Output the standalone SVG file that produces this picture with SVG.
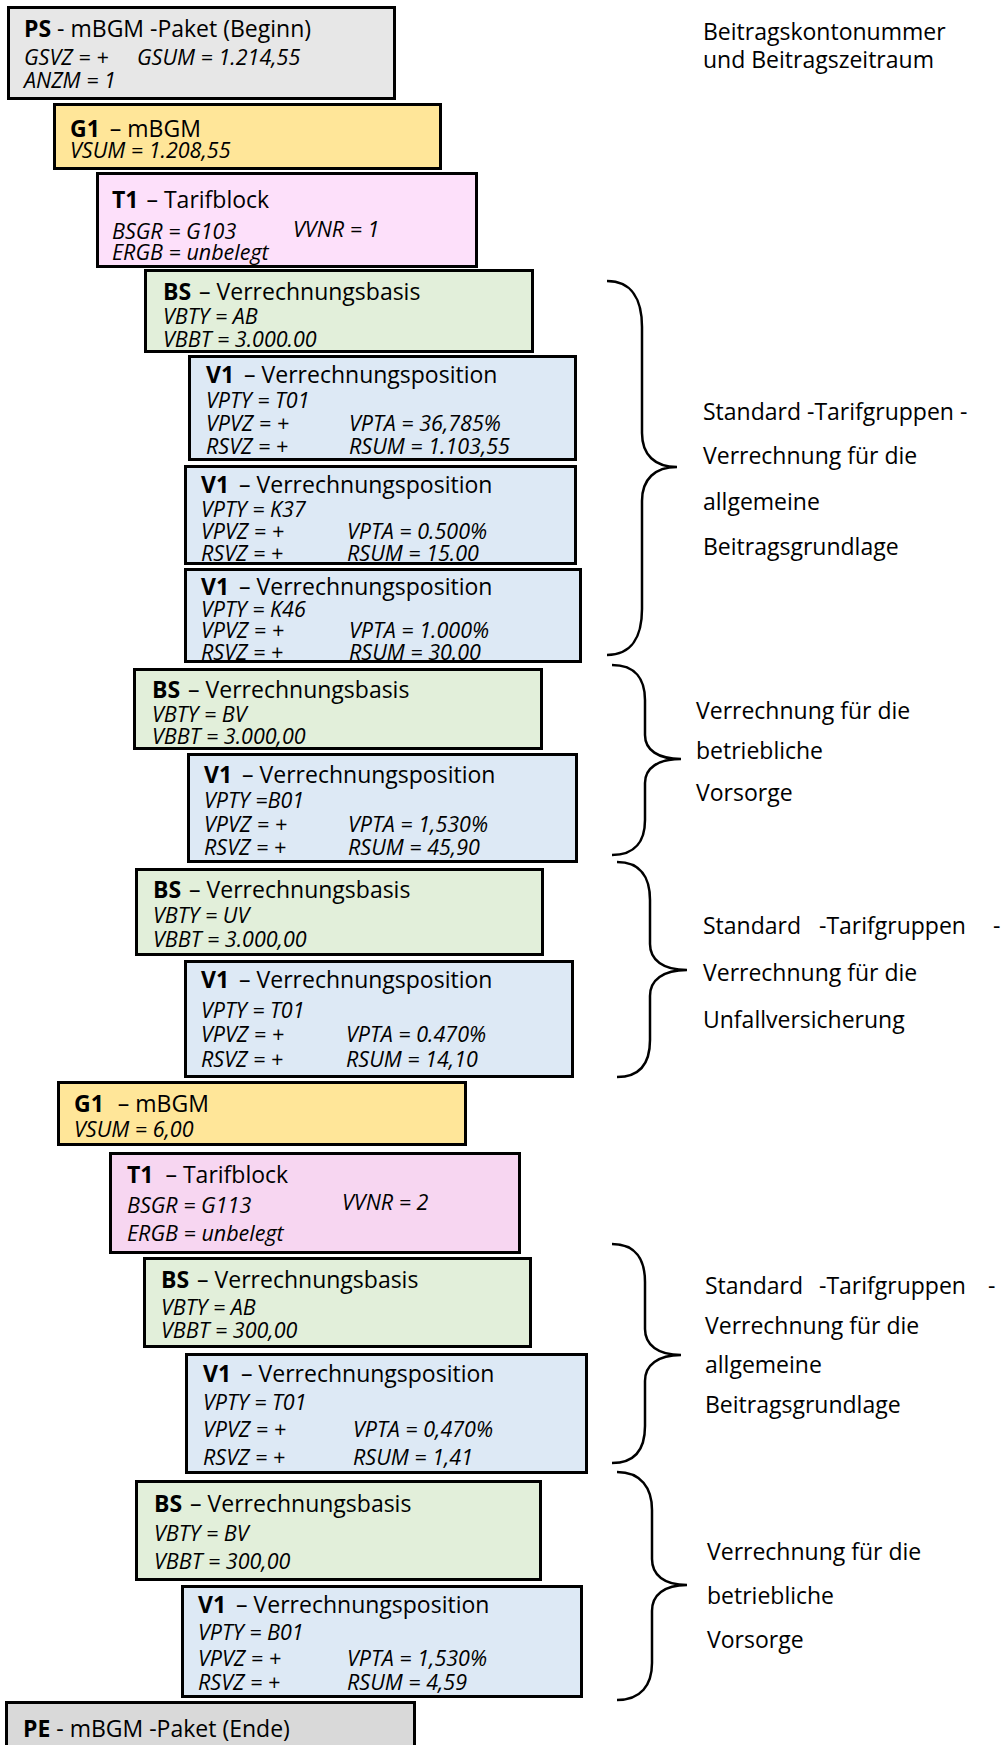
<svg xmlns="http://www.w3.org/2000/svg" width="1007" height="1745" viewBox="0 0 1007 1745">
<style>
.box{stroke:#000;stroke-width:3}
.ps{fill:#e7e7e7}.pe{fill:#d9d9d9}.g{fill:#ffe699}.t{fill:#fde0fa}.t2{fill:#f7d6f1}.b{fill:#e2efda}.v{fill:#dde9f5}
.h{font-family:"Open Sans","Liberation Sans",sans-serif;font-size:23px;fill:#000}
.h tspan.k{font-weight:bold}
.i{font-family:"Open Sans","Liberation Sans",sans-serif;font-size:21.5px;font-style:italic;fill:#000}
.lbl{font-family:"Open Sans","Liberation Sans",sans-serif;font-size:23px;fill:#000}
.br{fill:none;stroke:#000;stroke-width:2.5}
</style>
<rect width="1007" height="1745" fill="#fff"/>
<defs>
<clipPath id="c1"><rect x="9" y="8" width="385" height="90"/></clipPath>
<clipPath id="c2"><rect x="55" y="105" width="385" height="63"/></clipPath>
<clipPath id="c3"><rect x="98" y="174" width="378" height="92"/></clipPath>
<clipPath id="c4"><rect x="146" y="271" width="386" height="80"/></clipPath>
<clipPath id="c5"><rect x="190" y="357" width="385" height="102"/></clipPath>
<clipPath id="c6"><rect x="186" y="467" width="389" height="96"/></clipPath>
<clipPath id="c7"><rect x="186" y="570" width="394" height="91"/></clipPath>
<clipPath id="c8"><rect x="135" y="670" width="406" height="78"/></clipPath>
<clipPath id="c9"><rect x="189" y="755" width="387" height="106"/></clipPath>
<clipPath id="c10"><rect x="137" y="870" width="405" height="84"/></clipPath>
<clipPath id="c11"><rect x="186" y="962" width="386" height="114"/></clipPath>
<clipPath id="c12"><rect x="59" y="1083" width="406" height="61"/></clipPath>
<clipPath id="c13"><rect x="111" y="1154" width="408" height="98"/></clipPath>
<clipPath id="c14"><rect x="145" y="1259" width="385" height="87"/></clipPath>
<clipPath id="c15"><rect x="187" y="1355" width="399" height="117"/></clipPath>
<clipPath id="c16"><rect x="137" y="1482" width="403" height="97"/></clipPath>
<clipPath id="c17"><rect x="183" y="1587" width="398" height="109"/></clipPath>
<clipPath id="c18"><rect x="7" y="1703" width="407" height="60"/></clipPath>
</defs>

<g id="connectors">
<path class="br" d="M607,281 C632,281 642,300 642,327 L642,433 C642,455 655,467 677,467 C655,467 642,479 642,501 L642,609 C642,636 632,655 607,655"/>
<path class="br" d="M612,665 C636,665 645,680 645,700 L645,735 C645,750 658,759 681,759 C658,759 645,768 645,783 L645,820 C645,840 636,855 612,855"/>
<path class="br" d="M617,862 C641,862 650,878 650,900 L650,944 C650,960 663,970 687,970 C663,970 650,980 650,996 L650,1040 C650,1062 641,1077 617,1077"/>
<path class="br" d="M612,1244 C636,1244 645,1260 645,1282 L645,1329 C645,1345 658,1355 681,1355 C658,1355 645,1365 645,1381 L645,1426 C645,1448 636,1463 612,1463"/>
<path class="br" d="M617,1472 C641,1472 652,1488 652,1510 L652,1559 C652,1575 664,1585 687,1585 C664,1585 652,1595 652,1611 L652,1663 C652,1685 641,1700 617,1700"/>
</g>

<g id="labels">
<text class="lbl" x="703" y="40">Beitragskontonummer</text>
<text class="lbl" x="703" y="68">und Beitragszeitraum</text>
<text class="lbl" x="703" y="420">Standard -Tarifgruppen -</text>
<text class="lbl" x="703" y="464">Verrechnung für die</text>
<text class="lbl" x="703" y="510">allgemeine</text>
<text class="lbl" x="703" y="555">Beitragsgrundlage</text>
<text class="lbl" x="696" y="719">Verrechnung für die</text>
<text class="lbl" x="696" y="759">betriebliche</text>
<text class="lbl" x="696" y="801">Vorsorge</text>
<text class="lbl" x="703" y="934">Standard</text>
<text class="lbl" x="819" y="934">-Tarifgruppen</text>
<text class="lbl" x="993" y="934">-</text>
<text class="lbl" x="703" y="981">Verrechnung für die</text>
<text class="lbl" x="703" y="1028">Unfallversicherung</text>
<text class="lbl" x="705" y="1294">Standard</text>
<text class="lbl" x="819" y="1294">-Tarifgruppen</text>
<text class="lbl" x="988" y="1294">-</text>
<text class="lbl" x="705" y="1334">Verrechnung für die</text>
<text class="lbl" x="705" y="1373">allgemeine</text>
<text class="lbl" x="705" y="1413">Beitragsgrundlage</text>
<text class="lbl" x="707" y="1560">Verrechnung für die</text>
<text class="lbl" x="707" y="1604">betriebliche</text>
<text class="lbl" x="707" y="1648">Vorsorge</text>
</g>

<g id="n1"><rect class="box ps" x="8.5" y="7.5" width="386" height="91"/>
<g clip-path="url(#c1)"><text class="h" x="24" y="37"><tspan class="k">PS</tspan> - mBGM -Paket (Beginn)</text>
<text class="i" x="24" y="65">GSVZ = +</text><text class="i" x="137" y="65">GSUM = 1.214,55</text>
<text class="i" x="24" y="88">ANZM = 1</text></g></g>

<g id="n2"><rect class="box g" x="54.5" y="104.5" width="386" height="64"/>
<g clip-path="url(#c2)"><text class="h" x="70" y="137"><tspan class="k">G1</tspan><tspan dx="4"> – mBGM</tspan></text>
<text class="i" x="70" y="158">VSUM = 1.208,55</text></g></g>

<g id="n3"><rect class="box t" x="97.5" y="173.5" width="379" height="93"/>
<g clip-path="url(#c3)"><text class="h" x="112" y="208"><tspan class="k">T1</tspan><tspan dx="2"> – Tarifblock</tspan></text>
<text class="i" x="112" y="239">BSGR = G103</text><text class="i" x="293" y="237">VVNR = 1</text>
<text class="i" x="112" y="260">ERGB = unbelegt</text></g></g>

<g id="n4"><rect class="box b" x="145.5" y="270.5" width="387" height="81"/>
<g clip-path="url(#c4)"><text class="h" x="163" y="300"><tspan class="k">BS</tspan><tspan dx="2"> – Verrechnungsbasis</tspan></text>
<text class="i" x="163" y="324">VBTY = AB</text>
<text class="i" x="163" y="347">VBBT = 3.000.00</text></g></g>

<g id="n5"><rect class="box v" x="189.5" y="356.5" width="386" height="103"/>
<g clip-path="url(#c5)"><text class="h" x="206" y="383"><tspan class="k">V1</tspan><tspan dx="4"> – Verrechnungsposition</tspan></text>
<text class="i" x="206" y="408">VPTY = T01</text>
<text class="i" x="206" y="431">VPVZ = +</text><text class="i" x="349" y="431">VPTA = 36,785%</text>
<text class="i" x="206" y="454">RSVZ = +</text><text class="i" x="349" y="454">RSUM = 1.103,55</text></g></g>

<g id="n6"><rect class="box v" x="185.5" y="466.5" width="390" height="97"/>
<g clip-path="url(#c6)"><text class="h" x="201" y="493"><tspan class="k">V1</tspan><tspan dx="4"> – Verrechnungsposition</tspan></text>
<text class="i" x="201" y="517">VPTY = K37</text>
<text class="i" x="201" y="539">VPVZ = +</text><text class="i" x="347" y="539">VPTA = 0.500%</text>
<text class="i" x="201" y="561">RSVZ = +</text><text class="i" x="347" y="561">RSUM = 15.00</text></g></g>

<g id="n7"><rect class="box v" x="185.5" y="569.5" width="395" height="92"/>
<g clip-path="url(#c7)"><text class="h" x="201" y="595"><tspan class="k">V1</tspan><tspan dx="4"> – Verrechnungsposition</tspan></text>
<text class="i" x="201" y="617">VPTY = K46</text>
<text class="i" x="201" y="638">VPVZ = +</text><text class="i" x="349" y="638">VPTA = 1.000%</text>
<text class="i" x="201" y="660">RSVZ = +</text><text class="i" x="349" y="660">RSUM = 30.00</text></g></g>

<g id="n8"><rect class="box b" x="134.5" y="669.5" width="407" height="79"/>
<g clip-path="url(#c8)"><text class="h" x="152" y="698"><tspan class="k">BS</tspan><tspan dx="2"> – Verrechnungsbasis</tspan></text>
<text class="i" x="152" y="722">VBTY = BV</text>
<text class="i" x="152" y="744">VBBT = 3.000,00</text></g></g>

<g id="n9"><rect class="box v" x="188.5" y="754.5" width="388" height="107"/>
<g clip-path="url(#c9)"><text class="h" x="204" y="783"><tspan class="k">V1</tspan><tspan dx="4"> – Verrechnungsposition</tspan></text>
<text class="i" x="204" y="808">VPTY =B01</text>
<text class="i" x="204" y="832">VPVZ = +</text><text class="i" x="348" y="832">VPTA = 1,530%</text>
<text class="i" x="204" y="855">RSVZ = +</text><text class="i" x="348" y="855">RSUM = 45,90</text></g></g>

<g id="n10"><rect class="box b" x="136.5" y="869.5" width="406" height="85"/>
<g clip-path="url(#c10)"><text class="h" x="153" y="898"><tspan class="k">BS</tspan><tspan dx="2"> – Verrechnungsbasis</tspan></text>
<text class="i" x="153" y="923">VBTY = UV</text>
<text class="i" x="153" y="947">VBBT = 3.000,00</text></g></g>

<g id="n11"><rect class="box v" x="185.5" y="961.5" width="387" height="115"/>
<g clip-path="url(#c11)"><text class="h" x="201" y="988"><tspan class="k">V1</tspan><tspan dx="4"> – Verrechnungsposition</tspan></text>
<text class="i" x="201" y="1018">VPTY = T01</text>
<text class="i" x="201" y="1042">VPVZ = +</text><text class="i" x="346" y="1042">VPTA = 0.470%</text>
<text class="i" x="201" y="1067">RSVZ = +</text><text class="i" x="346" y="1067">RSUM = 14,10</text></g></g>

<g id="n12"><rect class="box g" x="58.5" y="1082.5" width="407" height="62"/>
<g clip-path="url(#c12)"><text class="h" x="74" y="1112"><tspan class="k">G1</tspan><tspan dx="8"> – mBGM</tspan></text>
<text class="i" x="74" y="1137">VSUM = 6,00</text></g></g>

<g id="n13"><rect class="box t2" x="110.5" y="1153.5" width="409" height="99"/>
<g clip-path="url(#c13)"><text class="h" x="127" y="1183"><tspan class="k">T1</tspan><tspan dx="6"> – Tarifblock</tspan></text>
<text class="i" x="127" y="1213">BSGR = G113</text><text class="i" x="342" y="1210">VVNR = 2</text>
<text class="i" x="127" y="1241">ERGB = unbelegt</text></g></g>

<g id="n14"><rect class="box b" x="144.5" y="1258.5" width="386" height="88"/>
<g clip-path="url(#c14)"><text class="h" x="161" y="1288"><tspan class="k">BS</tspan><tspan dx="2"> – Verrechnungsbasis</tspan></text>
<text class="i" x="161" y="1315">VBTY = AB</text>
<text class="i" x="161" y="1338">VBBT = 300,00</text></g></g>

<g id="n15"><rect class="box v" x="186.5" y="1354.5" width="400" height="118"/>
<g clip-path="url(#c15)"><text class="h" x="203" y="1382"><tspan class="k">V1</tspan><tspan dx="4"> – Verrechnungsposition</tspan></text>
<text class="i" x="203" y="1410">VPTY = T01</text>
<text class="i" x="203" y="1437">VPVZ = +</text><text class="i" x="353" y="1437">VPTA = 0,470%</text>
<text class="i" x="203" y="1465">RSVZ = +</text><text class="i" x="353" y="1465">RSUM = 1,41</text></g></g>

<g id="n16"><rect class="box b" x="136.5" y="1481.5" width="404" height="98"/>
<g clip-path="url(#c16)"><text class="h" x="154" y="1512"><tspan class="k">BS</tspan><tspan dx="2"> – Verrechnungsbasis</tspan></text>
<text class="i" x="154" y="1541">VBTY = BV</text>
<text class="i" x="154" y="1569">VBBT = 300,00</text></g></g>

<g id="n17"><rect class="box v" x="182.5" y="1586.5" width="399" height="110"/>
<g clip-path="url(#c17)"><text class="h" x="198" y="1613"><tspan class="k">V1</tspan><tspan dx="4"> – Verrechnungsposition</tspan></text>
<text class="i" x="198" y="1640">VPTY = B01</text>
<text class="i" x="198" y="1666">VPVZ = +</text><text class="i" x="347" y="1666">VPTA = 1,530%</text>
<text class="i" x="198" y="1690">RSVZ = +</text><text class="i" x="347" y="1690">RSUM = 4,59</text></g></g>

<g id="n18"><rect class="box pe" x="6.5" y="1702.5" width="408" height="60"/>
<g clip-path="url(#c18)"><text class="h" x="23" y="1737"><tspan class="k">PE</tspan> - mBGM -Paket (Ende)</text></g></g>
</svg>
